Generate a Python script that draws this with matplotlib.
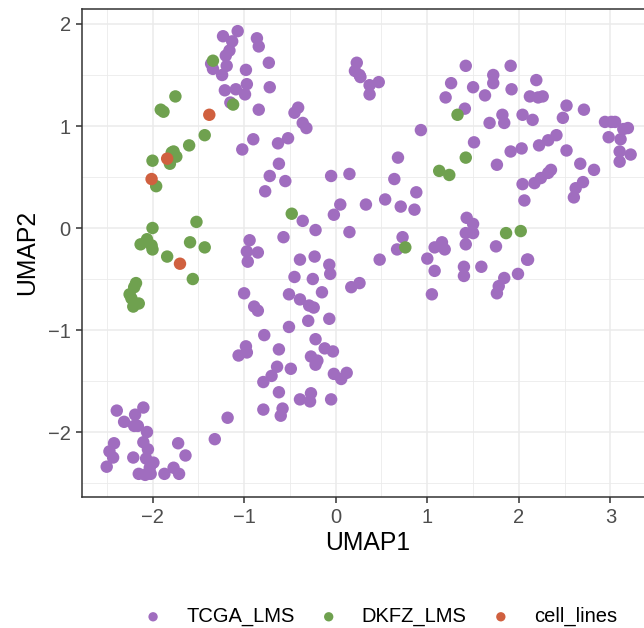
import matplotlib
matplotlib.use("Agg")
import matplotlib.pyplot as plt
from matplotlib.ticker import MultipleLocator

plt.rcParams['font.family'] = ['Liberation Sans', 'DejaVu Sans']

# TCGA_LMS samples (UMAP1, UMAP2)
tcga_x = [-1.07, -1.23, -1.13, -0.86, -0.84, -1.16, -1.20, -1.36, -1.34, -1.19,
          -1.24, -0.98, -0.73, -1.21, -1.09, -0.97, -0.99, -0.72, -1.15, -0.84,
          -0.90, -1.02, -0.72, -0.77, -0.94, -0.97, -0.85, -0.96, -1.00, -0.89,
          -0.85, -0.78, -0.98, -0.97, -1.06, -0.79, -0.70, -0.79, -1.18, -1.32,
          -2.39, -2.10, -2.19, -2.31, -2.20, -2.16, -2.06, -2.42, -2.47, -2.43,
          -2.50, -2.10, -2.05, -2.21, -2.07, -1.99, -2.03, -2.15, -2.08, -2.02,
          -1.87, -1.77, -1.71, -1.72, -1.64,
          -0.45, -0.41, -0.36, -0.32, -0.52, -0.63, -0.62, -0.55, -0.36, -0.22,
          -0.57, -0.05, 0.15, 0.05, -0.02, 0.33, 0.15, 0.23, 0.21, 0.26,
          0.27, 0.37, 0.47, 0.37, 0.93, 0.68, 0.64, 0.88, 0.54, 0.71,
          0.86, 0.73, 0.67, 1.08, 1.16, 1.19, 1.26, 1.20, 1.42, 1.41,
          1.43, 1.42, 1.42,
          1.00, 1.08, 1.05, 0.48, -0.39, -0.23, -0.07, -0.06, -0.45, -0.25,
          0.17, 0.26, -0.51, -0.39, -0.15, -0.29, -0.24, -0.30, -0.07, -0.51,
          -0.22, -0.62, -0.12, -0.03, -0.27, -0.20, -0.22, -0.64, -0.49, -0.02,
          0.06, 0.12, -0.62, -0.39, -0.27, -0.28, -0.05, -0.58, -0.60,
          1.50, 1.72, 1.72, 1.91, 1.92, 1.63, 1.68, 1.82, 1.84, 2.19,
          2.12, 2.21, 2.26, 2.04, 2.15, 2.52, 2.48, 2.71, 2.94, 3.01,
          3.05, 3.14, 3.19, 2.98, 3.11, 3.10, 3.22, 3.10, 1.51, 1.91,
          2.03, 1.76, 2.22, 2.32, 2.41, 2.52, 2.67, 2.82, 2.04, 2.17,
          2.24, 2.32, 2.35, 2.06, 2.70, 2.62, 2.60, 1.50, 1.50, 1.75,
          1.40, 1.40, 1.59, 2.10, 2.09, 1.99, 1.84, 1.78, 1.76]
tcga_y = [1.93, 1.88, 1.83, 1.86, 1.78, 1.74, 1.69, 1.61, 1.56, 1.59,
          1.50, 1.55, 1.62, 1.35, 1.36, 1.41, 1.31, 1.38, 1.23, 1.16,
          0.87, 0.77, 0.51, 0.36, -0.12, -0.23, -0.24, -0.33, -0.64, -0.77,
          -0.81, -1.05, -1.16, -1.22, -1.25, -1.51, -1.45, -1.78, -1.86, -2.07,
          -1.79, -1.76, -1.83, -1.90, -1.94, -1.94, -2.00, -2.11, -2.19, -2.25,
          -2.34, -2.10, -2.17, -2.25, -2.26, -2.30, -2.35, -2.41, -2.42, -2.41,
          -2.41, -2.35, -2.41, -2.11, -2.23,
          1.13, 1.18, 1.03, 0.98, 0.88, 0.83, 0.63, 0.46, 0.07, -0.02,
          -0.09, 0.51, 0.53, 0.23, 0.13, 0.23, -0.04, 1.62, 1.54, 1.50,
          1.48, 1.40, 1.43, 1.31, 0.96, 0.69, 0.48, 0.35, 0.28, 0.21,
          0.18, -0.09, -0.21, -0.19, -0.14, -0.21, 1.42, 1.28, 1.59, 1.17,
          0.10, -0.05, -0.16,
          -0.30, -0.42, -0.65, -0.31, -0.31, -0.28, -0.36, -0.45, -0.48, -0.50,
          -0.58, -0.54, -0.65, -0.70, -0.63, -0.76, -0.78, -0.91, -0.89, -0.97,
          -1.09, -1.19, -1.18, -1.21, -1.26, -1.30, -1.34, -1.36, -1.38, -1.43,
          -1.48, -1.42, -1.61, -1.68, -1.62, -1.70, -1.68, -1.77, -1.84,
          1.38, 1.50, 1.42, 1.59, 1.36, 1.30, 1.03, 1.11, 1.03, 1.45,
          1.29, 1.28, 1.29, 1.11, 1.06, 1.20, 1.08, 1.16, 1.04, 1.04,
          1.04, 0.97, 0.98, 0.89, 0.87, 0.75, 0.72, 0.65, 0.84, 0.75,
          0.78, 0.62, 0.81, 0.86, 0.91, 0.76, 0.63, 0.57, 0.43, 0.44,
          0.49, 0.54, 0.57, 0.27, 0.45, 0.39, 0.30, 0.04, -0.05, -0.18,
          -0.38, -0.47, -0.38, -0.31, -0.31, -0.45, -0.49, -0.57, -0.64]

# DKFZ_LMS samples
dkfz_x = [-1.34, -1.12, -1.75, -1.91, -1.88, -1.43, -1.60, -1.77, -1.74, -1.81,
          -1.79, -2.00, -1.96, -1.52, -2.00, -2.13, -2.06, -2.01, -2.00, -1.59,
          -1.43, -1.84, -1.56, -2.18, -2.20, -2.25, -2.23, -2.15, -2.21, -0.48,
          0.76, 1.13, 1.24, 1.33, 1.42, 1.86, 2.02]
dkfz_y = [1.64, 1.21, 1.29, 1.16, 1.14, 0.91, 0.81, 0.75, 0.70, 0.63,
          0.74, 0.66, 0.41, 0.06, 0.00, -0.16, -0.11, -0.17, -0.21, -0.14,
          -0.19, -0.28, -0.50, -0.54, -0.58, -0.65, -0.69, -0.74, -0.77, 0.14,
          -0.19, 0.56, 0.52, 1.11, 0.69, -0.05, -0.03]

# cell lines
cell_x = [-1.38, -1.84, -2.01, -1.70]
cell_y = [1.11, 0.68, 0.48, -0.35]

groups = ["TCGA_LMS", "DKFZ_LMS", "cell_lines"]
colors = ["#A06DBF", "#6FA14F", "#D0603F"]

fig = plt.figure(figsize=(6.44, 6.28), dpi=100)
ax = fig.add_axes([81.7 / 644, 1 - 496.7 / 628, (654 - 81.7) / 644, (496.7 - 9) / 628])

for (xs, ys), lab, col in zip([(tcga_x, tcga_y), (dkfz_x, dkfz_y), (cell_x, cell_y)],
                              groups, colors):
    ax.scatter(xs, ys, s=80, color=col, edgecolors='none', label=lab, zorder=3)

ax.set_xlim(-2.773, 3.475)
ax.set_ylim(-2.634, 2.147)
ax.xaxis.set_major_locator(MultipleLocator(1))
ax.yaxis.set_major_locator(MultipleLocator(1))
ax.xaxis.set_minor_locator(MultipleLocator(0.5))
ax.yaxis.set_minor_locator(MultipleLocator(0.5))
ax.grid(which='major', color='#EBEBEB', linewidth=1.1, zorder=0)
ax.grid(which='minor', color='#EBEBEB', linewidth=0.6, zorder=0)
ax.set_axisbelow(True)
for sp in ax.spines.values():
    sp.set_color('#333333')
    sp.set_linewidth(1.1)
ax.tick_params(which='major', length=4.3, width=1.1, color='#333333',
               labelcolor='#4D4D4D', labelsize=14.5, pad=3.6)
ax.tick_params(which='minor', length=0)

ax.set_xlabel("UMAP1", fontsize=17.8, color='black')
ax.set_ylabel("UMAP2", fontsize=17.8, color='black')
ax.xaxis.set_label_coords(0.5, -0.095)
ax.yaxis.set_label_coords(-0.0949, 0.5)
ax.xaxis.label.set_va('center')
ax.yaxis.label.set_va('center')

fig.legend(loc='center', bbox_to_anchor=(380 / 644, 1 - 616.7 / 628), ncol=3,
           frameon=False, fontsize=14.5, handlelength=1.0, handletextpad=1.14,
           columnspacing=1.2, markerscale=0.75, borderpad=0)

fig.savefig("out.png", dpi=100)
